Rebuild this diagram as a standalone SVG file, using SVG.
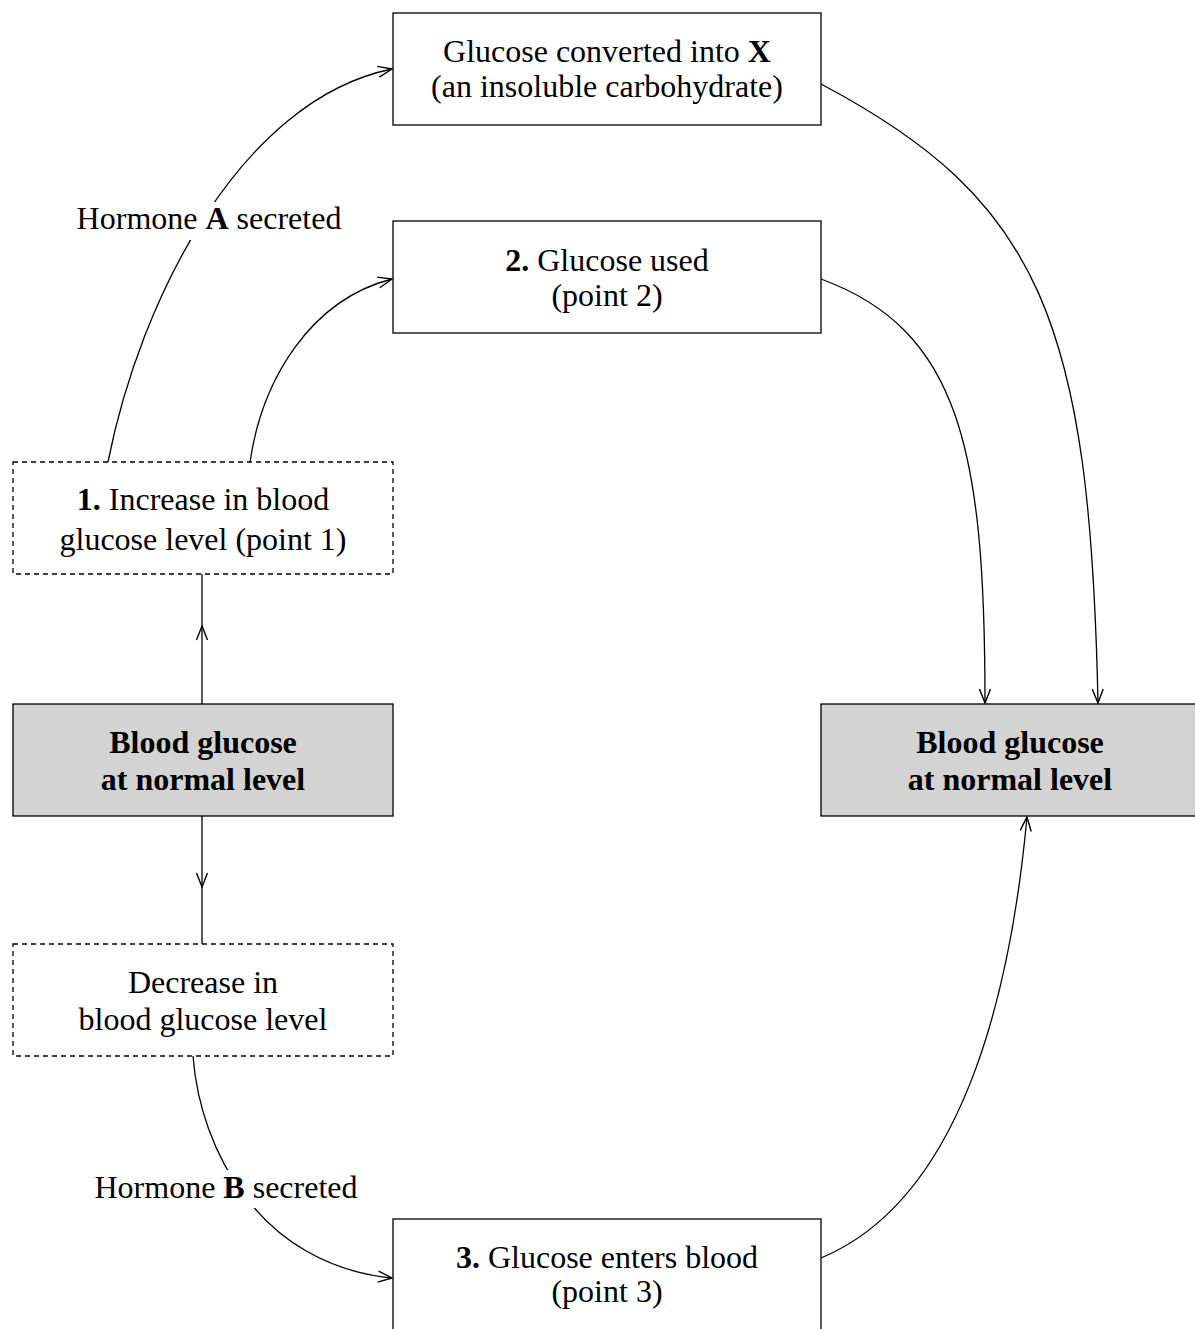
<svg xmlns="http://www.w3.org/2000/svg" width="1195" height="1329" viewBox="0 0 1195 1329">
<defs>
<marker id="arr" viewBox="0 0 16 14" refX="15" refY="7" markerWidth="16" markerHeight="14" markerUnits="userSpaceOnUse" orient="auto">
<path d="M1,1.5 L15,7 L1,12.5" fill="none" stroke="#000" stroke-width="1.4"/>
</marker>
</defs>
<style>
.box{fill:#fff;stroke:#000;stroke-width:1.3}
.dash{fill:#fff;stroke:#000;stroke-width:1.3;stroke-dasharray:5,4}
.grey{fill:#d3d3d3;stroke:#000;stroke-width:1.3}
.t{font-family:"Liberation Serif","Times New Roman",serif;font-size:32px;text-anchor:middle;fill:#000}
.b{font-weight:bold}
.c{fill:none;stroke:#000;stroke-width:1.3}
.lbl{fill:#fff;stroke:none}
</style>
<rect width="1195" height="1329" fill="#fff"/>
<g id="connectors">
<path class="c" d="M108,462 C140,300 240,100 392,69" marker-end="url(#arr)"/>
<path class="c" d="M250,462 C262,380 310,300 392,279" marker-end="url(#arr)"/>
<path class="c" d="M202,704 L202,626 L202,574" marker-mid="url(#arr)"/>
<path class="c" d="M202,816 L202,887 L202,944" marker-mid="url(#arr)"/>
<path class="c" d="M821,279 C960,330 985,450 985,703" marker-end="url(#arr)"/>
<path class="c" d="M821,84 C1040,200 1090,320 1098,703" marker-end="url(#arr)"/>
<path class="c" d="M193,1056 C200,1150 260,1265 392,1278" marker-end="url(#arr)"/>
<path class="c" d="M821,1258 C960,1200 1010,1000 1027,817" marker-end="url(#arr)"/>
<rect class="lbl" x="72" y="202" width="274" height="38"/>
<rect class="lbl" x="90" y="1170" width="272" height="38"/>
<text class="t" x="209" y="229">Hormone <tspan class="b">A</tspan> secreted</text>
<text class="t" x="226" y="1198">Hormone <tspan class="b">B</tspan> secreted</text>
</g>
<g id="node-x">
<rect class="box" x="393" y="13" width="428" height="112"/>
<text class="t" x="607" y="62">Glucose converted into <tspan class="b">X</tspan></text>
<text class="t" x="607" y="97">(an insoluble carbohydrate)</text>
</g>
<g id="node-used">
<rect class="box" x="393" y="221" width="428" height="112"/>
<text class="t" x="607" y="271"><tspan class="b">2.</tspan> Glucose used</text>
<text class="t" x="607" y="306">(point 2)</text>
</g>
<g id="node-increase">
<rect class="dash" x="13" y="462" width="380" height="112"/>
<text class="t" x="203" y="510"><tspan class="b">1.</tspan> Increase in blood</text>
<text class="t" x="203" y="550">glucose level (point 1)</text>
</g>
<g id="node-normal-left">
<rect class="grey" x="13" y="704" width="380" height="112"/>
<text class="t b" x="203" y="753">Blood glucose</text>
<text class="t b" x="203" y="790">at normal level</text>
</g>
<g id="node-normal-right">
<rect class="grey" x="821" y="704" width="380" height="112"/>
<text class="t b" x="1010" y="753">Blood glucose</text>
<text class="t b" x="1010" y="790">at normal level</text>
</g>
<g id="node-decrease">
<rect class="dash" x="13" y="944" width="380" height="112"/>
<text class="t" x="203" y="993">Decrease in</text>
<text class="t" x="203" y="1030">blood glucose level</text>
</g>
<g id="node-enters">
<rect class="box" x="393" y="1219" width="428" height="130"/>
<text class="t" x="607" y="1268"><tspan class="b">3.</tspan> Glucose enters blood</text>
<text class="t" x="607" y="1302">(point 3)</text>
</g>
</svg>
